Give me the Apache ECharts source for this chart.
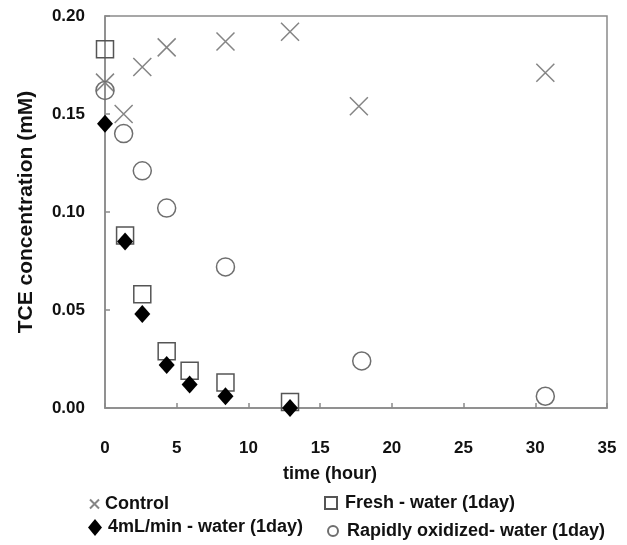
<!DOCTYPE html>
<html>
<head>
<meta charset="utf-8">
<script src="https://cdn.jsdelivr.net/npm/echarts@6/dist/echarts.min.js"></script>
<style>html,body{margin:0;padding:0;background:#fff}#c{width:627px;height:545px}</style>
</head>
<body>
<div id="c"></div>
<script>
const seriesNames = ['Control', 'Fresh - water (1day)', '4mL/min - water (1day)', 'Rapidly oxidized- water (1day)'];
const controlTime = [0, 1.3, 2.6, 4.3, 8.4, 12.9, 17.7, 30.7];
const controlConc = [0.166, 0.150, 0.174, 0.184, 0.187, 0.192, 0.154, 0.171];
const freshTime = [0, 1.4, 2.6, 4.3, 5.9, 8.4, 12.9];
const freshConc = [0.183, 0.088, 0.058, 0.029, 0.019, 0.013, 0.003];
const flowTime = [0, 1.4, 2.6, 4.3, 5.9, 8.4, 12.9];
const flowConc = [0.145, 0.085, 0.048, 0.022, 0.012, 0.006, 0.000];
const rapidTime = [0, 1.3, 2.6, 4.3, 8.4, 17.9, 30.7];
const rapidConc = [0.162, 0.140, 0.121, 0.102, 0.072, 0.024, 0.006];
const xTicks = [0, 5, 10, 15, 20, 25, 30, 35];
const yTicks = [0.00, 0.05, 0.10, 0.15, 0.20];

const pair = (xs, ys) => xs.map((x, i) => [x, ys[i]]);
const FONT = '"Liberation Sans", Arial, sans-serif';
const crossPath = 'path://M0,0L10,10M0,10L10,0';

const chart = echarts.init(document.getElementById('c'));
const legendText = {fontFamily: FONT, fontSize: 18, fontWeight: 'bold', color: '#111', lineHeight: 20};
function leg(name, left, top, w, h, icon, pad) {
  return {show: true, data: [{name: name, icon: icon}], left: left, top: top, padding: 0,
    itemWidth: w, itemHeight: h, selectedMode: false,
    textStyle: Object.assign({}, legendText, {padding: [0, 0, 0, pad]})};
}
chart.setOption({
  animation: false,
  grid: {left: 105, right: 20, top: 16, bottom: 137, show: true, borderColor: '#8a8a8a', borderWidth: 1.5},
  xAxis: {
    type: 'value', min: xTicks[0], max: xTicks[xTicks.length - 1], interval: 5,
    name: 'time (hour)', nameLocation: 'middle', nameGap: 57,
    nameTextStyle: {fontFamily: FONT, fontSize: 18, fontWeight: 'bold', color: '#111', padding: [0, 52, 0, 0]},
    axisLine: {lineStyle: {color: '#8a8a8a', width: 1.5}},
    axisTick: {inside: true, length: 5, lineStyle: {color: '#8a8a8a', width: 1.5}},
    axisLabel: {margin: 32, fontFamily: FONT, fontSize: 17, fontWeight: 'bold', color: '#111'},
    splitLine: {show: false}
  },
  yAxis: {
    type: 'value', min: yTicks[0], max: yTicks[yTicks.length - 1], interval: 0.05,
    name: 'TCE concentration (mM)', nameLocation: 'middle', nameGap: 68, nameRotate: 90,
    nameTextStyle: {fontFamily: FONT, fontSize: 21, fontWeight: 'bold', color: '#111'},
    axisLine: {lineStyle: {color: '#8a8a8a', width: 1.5}},
    axisTick: {inside: true, length: 5, lineStyle: {color: '#8a8a8a', width: 1.5}},
    axisLabel: {margin: 20, fontFamily: FONT, fontSize: 17, fontWeight: 'bold', color: '#111',
      formatter: v => v.toFixed(2)},
    splitLine: {show: false}
  },
  legend: [
    leg(seriesNames[0], 89, 494, 9, 9, crossPath, 1),
    leg(seriesNames[1], 324, 493, 12, 12, 'rect', 3),
    leg(seriesNames[2], 88, 517.5, 14, 17, 'diamond', 1),
    leg(seriesNames[3], 327, 521, 10, 10, 'circle', 4)
  ],
  series: [
    {name: seriesNames[0], type: 'scatter', data: pair(controlTime, controlConc), clip: false,
      symbol: crossPath, symbolSize: 18,
      itemStyle: {color: 'rgba(0,0,0,0)', borderColor: '#858585', borderWidth: 1.5, opacity: 1}},
    {name: seriesNames[1], type: 'scatter', data: pair(freshTime, freshConc), clip: false,
      symbol: 'rect', symbolSize: 17,
      itemStyle: {color: 'rgba(255,255,255,0)', borderColor: '#555', borderWidth: 1.5, opacity: 1}},
    {name: seriesNames[2], type: 'scatter', data: pair(flowTime, flowConc), clip: false,
      symbol: 'diamond', symbolSize: [16, 18],
      itemStyle: {color: '#000', opacity: 1}},
    {name: seriesNames[3], type: 'scatter', data: pair(rapidTime, rapidConc), clip: false,
      symbol: 'circle', symbolSize: 18,
      itemStyle: {color: 'rgba(255,255,255,0)', borderColor: '#6e6e6e', borderWidth: 1.5, opacity: 1}}
  ]
});
</script>
</body>
</html>
